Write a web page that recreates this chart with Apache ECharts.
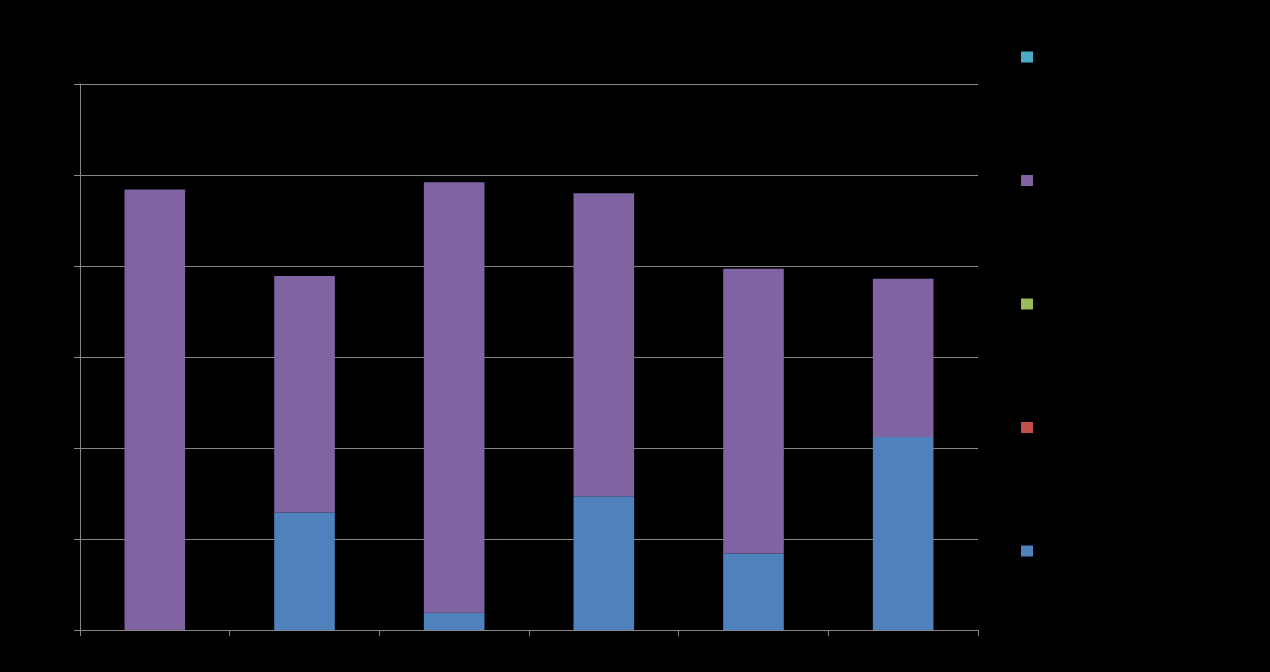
<!DOCTYPE html>
<html lang="en">
<head>
  <meta charset="UTF-8">
  <title>Chart</title>
  <script src="https://cdn.jsdelivr.net/npm/echarts@6/dist/echarts.min.js"></script>
  <style>
    html, body { margin: 0; padding: 0; background: #000; }
  </style>
</head>
<body>
<div id="main" style="width: 1270px; height: 672px"></div>
<script>

  // values
  var categories = ['1', '2', '3', '4', '5', '6'];
  var seriesNames = ['Series1', 'Series2', 'Series3', 'Series4', 'Series5'];
  var series1 = [0, 12.9, 1.9, 14.7, 8.4, 21.2];
  var series2 = [0, 0, 0, 0, 0, 0];
  var series3 = [0, 0, 0, 0, 0, 0];
  var series4 = [48.4, 26.0, 47.3, 33.3, 31.3, 17.4];
  var series5 = [0, 0, 0, 0, 0, 0];

  var colors = ['#4F81BD', '#C0504D', '#9BBB59', '#8064A2', '#4BACC6'];
  var values = [series1, series2, series3, series4, series5];

  var chartDom = document.getElementById('main');
  var myChart = echarts.init(chartDom);

  var series = values.map(function (data, i) {
    return {
      name: seriesNames[i],
      type: 'bar',
      stack: 'total',
      barWidth: '40.5%',
      itemStyle: { color: colors[i] },
      data: data
    };
  });

  var option = {
    backgroundColor: '#000000',
    animation: false,
    grid: {
      left: 80,
      right: 292,
      top: 84,
      bottom: 42
    },
    legend: {
      orient: 'vertical',
      left: 1016,
      top: 46,
      icon: 'rect',
      itemWidth: 12,
      itemHeight: 11,
      itemGap: 111.5,
      textStyle: { color: '#000000', fontSize: 12 },
      data: seriesNames.slice().reverse()
    },
    xAxis: {
      type: 'category',
      data: categories,
      axisLine: { lineStyle: { color: '#868686' } },
      axisTick: { show: true, alignWithLabel: false, length: 6, lineStyle: { color: '#868686' } },
      axisLabel: { color: '#000000' }
    },
    yAxis: {
      type: 'value',
      min: 0,
      max: 60,
      interval: 10,
      axisLine: { show: true, lineStyle: { color: '#868686' } },
      axisTick: { show: true, length: 6, lineStyle: { color: '#868686' } },
      axisLabel: { color: '#000000' },
      splitLine: { lineStyle: { color: '#868686' } }
    },
    series: series
  };
  myChart.setOption(option);

</script>
</body>
</html>
